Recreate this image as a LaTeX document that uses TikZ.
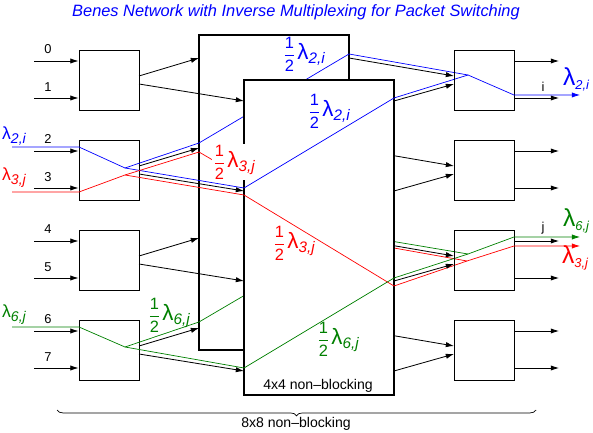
\documentclass[tikz,border=0pt]{standalone}
\usepackage{fontspec}
\setmainfont{Liberation Sans}
\usepackage{amsmath}
\usetikzlibrary{arrows.meta,decorations.pathreplacing}

\definecolor{netblue}{RGB}{0,0,255}
\definecolor{netred}{RGB}{255,0,0}
\definecolor{netgreen}{RGB}{0,128,0}

\newcommand{\lam}[2][11]{λ\raisebox{-3.5pt}{\fontsize{#1}{13}\selectfont\itshape #2}}
\newcommand{\halflam}[1]{{\fontsize{14}{16}\selectfont$\genfrac{}{}{0.6pt}{0}{\hbox{1}}{\hbox{2}}$}\,{\fontsize{19}{22}\selectfont\lam[13]{#1}}}

\begin{document}
\begin{tikzpicture}[x=0.03cm,y=-0.03cm,
  sw/.style={draw,line width=0.8pt,minimum width=1.8cm,minimum height=1.8cm,inner sep=0pt},
  big/.style={draw,fill=white,line width=2pt,minimum width=4.5cm,minimum height=9.45cm,inner sep=0pt},
  arr/.style={-{Latex[length=7pt,width=4.5pt]},line width=0.7pt},
  ch/.style={line width=0.6pt},
  lbl/.style={font=\fontsize{11}{13}\selectfont,inner sep=1pt}]
\useasboundingbox (0,0) rectangle (593,433);

%title
\node[font=\fontsize{14}{17}\selectfont\itshape,text=netblue] (head) at (296,12) {Benes Network with Inverse Multiplexing for Packet Switching};

%ports of the switches
\coordinate (in0) at (34,61); \coordinate (in1) at (34,98);
\coordinate (in2) at (34,151); \coordinate (in3) at (34,188);
\coordinate (in4) at (34,241); \coordinate (in5) at (34,278);
\coordinate (in6) at (34,331); \coordinate (in7) at (34,368);
\coordinate (l0a) at (139,76); \coordinate (l0b) at (139,84);
\coordinate (l1a) at (139,166); \coordinate (l1b) at (139,174);
\coordinate (l2a) at (139,256); \coordinate (l2b) at (139,264);
\coordinate (l3a) at (139,346); \coordinate (l3b) at (139,354);
\coordinate (bi0) at (199,58); \coordinate (bo0) at (349,58);
\coordinate (bi1) at (199,148); \coordinate (bo1) at (349,148);
\coordinate (bi2) at (199,238); \coordinate (bo2) at (349,238);
\coordinate (bi3) at (199,328); \coordinate (bo3) at (349,328);
\coordinate (fi0) at (244,101); \coordinate (fo0) at (394,101);
\coordinate (fi1) at (244,191); \coordinate (fo1) at (394,191);
\coordinate (fi2) at (244,281); \coordinate (fo2) at (394,281);
\coordinate (fi3) at (244,371); \coordinate (fo3) at (394,371);
\coordinate (r0a) at (454,76); \coordinate (r0b) at (454,84);
\coordinate (r1a) at (454,166); \coordinate (r1b) at (454,174);
\coordinate (r2a) at (454,256); \coordinate (r2b) at (454,264);
\coordinate (r3a) at (454,346); \coordinate (r3b) at (454,354);
\coordinate (ou0) at (559,61); \coordinate (ou1) at (559,98);
\coordinate (ou2) at (559,151); \coordinate (ou3) at (559,188);
\coordinate (ou4) at (559,241); \coordinate (ou5) at (559,278);
\coordinate (ou6) at (559,331); \coordinate (ou7) at (559,368);

%points of the three split flows
\coordinate (b0) at (12,147); \coordinate (b1) at (79,147); \coordinate (bm) at (125,168);
\coordinate (b2) at (199,143); \coordinate (b3) at (349,54);
\coordinate (b4) at (244,188); \coordinate (b5) at (394,98);
\coordinate (bn) at (468,75); \coordinate (b6) at (514,95); \coordinate (b7) at (580,95);
\coordinate (c0) at (12,192); \coordinate (c1) at (79,192); \coordinate (cm) at (125,175);
\coordinate (c2) at (199,152); \coordinate (c3) at (349,240);
\coordinate (c4) at (244,195); \coordinate (c5) at (394,286);
\coordinate (cn) at (467,261); \coordinate (c6) at (514,246); \coordinate (c7) at (580,246);
\coordinate (g0) at (12,327); \coordinate (g1) at (79,327); \coordinate (gm) at (125,347);
\coordinate (g2) at (199,322); \coordinate (g3) at (349,234);
\coordinate (g4) at (244,368); \coordinate (g5) at (394,278);
\coordinate (gn) at (468,254); \coordinate (g6) at (514,237); \coordinate (g7) at (580,237);

%draw the back 4x4 switch
\node[big] (back) at (274,192.5) {};
\draw[ch,netblue] (b2) -- (b3) -- (bn);
\draw[ch,netred] (c2) -- (c3) -- (cn);
\draw[ch,netgreen] (g2) -- (g3) -- (gn);
\draw[arr] (bo0) -- (r0a);
\draw[arr] (bo1) -- (r1a);
\draw[arr] (bo2) -- (r2a);
\draw[arr] (bo3) -- (r3a);

%draw the front 4x4 switch
\node[big] (front) at (319,237.5) {};
\node[lbl,fill=white,text=netred] (h3b) at (234,162) {\halflam{3,j}};
\draw[ch,netblue] (b4) -- (b5) -- (bn);
\draw[ch,netred] (c4) -- (c5) -- (cn);
\draw[ch,netgreen] (g4) -- (g5) -- (gn);
\draw[arr] (fo0) -- (r0b);
\draw[arr] (fo1) -- (r1b);
\draw[arr] (fo2) -- (r2b);
\draw[arr] (fo3) -- (r3b);
\node[font=\fontsize{12}{14}\selectfont] (nb4) at (318,386) {4x4 non--blocking};

%draw the left 2x2 switches
\node[sw] (l0) at (109,80) {};
\node[sw] (l1) at (109,170) {};
\node[sw] (l2) at (109,260) {};
\node[sw] (l3) at (109,350) {};
\draw[arr] (in0) -- (in0 -| l0.west);
\draw[arr] (in1) -- (in1 -| l0.west);
\draw[arr] (in2) -- (in2 -| l1.west);
\draw[arr] (in3) -- (in3 -| l1.west);
\draw[arr] (in4) -- (in4 -| l2.west);
\draw[arr] (in5) -- (in5 -| l2.west);
\draw[arr] (in6) -- (in6 -| l3.west);
\draw[arr] (in7) -- (in7 -| l3.west);
\draw[arr] (l0a) -- (bi0);
\draw[arr] (l0b) -- (fi0);
\draw[arr] (l1a) -- (bi1);
\draw[arr] (l1b) -- (fi1);
\draw[arr] (l2a) -- (bi2);
\draw[arr] (l2b) -- (fi2);
\draw[arr] (l3a) -- (bi3);
\draw[arr] (l3b) -- (fi3);
\node[lbl] (n0) at (48,49) {0};
\node[lbl] (n1) at (48,87) {1};
\node[lbl] (n2) at (48,139) {2};
\node[lbl] (n3) at (48,177) {3};
\node[lbl] (n4) at (48,229) {4};
\node[lbl] (n5) at (48,267) {5};
\node[lbl] (n6) at (48,319) {6};
\node[lbl] (n7) at (48,357) {7};

%flows coming in
\draw[ch,netblue] (b0) -- (b1) -- (bm) -- (b2);
\draw[ch,netblue] (bm) -- (b4);
\draw[ch,netred] (c0) -- (c1) -- (cm) -- (c2);
\draw[ch,netred] (cm) -- (c4);
\draw[ch,netgreen] (g0) -- (g1) -- (gm) -- (g2);
\draw[ch,netgreen] (gm) -- (g4);

%draw the right 2x2 switches
\node[sw] (r0) at (484,80) {};
\node[sw] (r1) at (484,170) {};
\node[sw] (r2) at (484,260) {};
\node[sw] (r3) at (484,350) {};
\draw[arr] (ou0 -| r0.east) -- (ou0);
\draw[arr] (ou1 -| r0.east) -- (ou1);
\draw[arr] (ou2 -| r1.east) -- (ou2);
\draw[arr] (ou3 -| r1.east) -- (ou3);
\draw[arr] (ou4 -| r2.east) -- (ou4);
\draw[arr] (ou5 -| r2.east) -- (ou5);
\draw[arr] (ou6 -| r3.east) -- (ou6);
\draw[arr] (ou7 -| r3.east) -- (ou7);

%flows going out
\draw[ch,netblue,-{Latex[length=7pt,width=4.5pt]}] (bn) -- (b6) -- (b7);
\draw[ch,netred,-{Latex[length=7pt,width=4.5pt]}] (cn) -- (c6) -- (c7);
\draw[ch,netgreen,-{Latex[length=7pt,width=4.5pt]}] (gn) -- (g6) -- (g7);
\node[lbl] (oi) at (543,87) {i};
\node[lbl] (oj) at (543,228) {j};

%flow labels
\node[text=netblue,font=\fontsize{15}{17}\selectfont,inner sep=0pt] (la2) at (14,136) {\lam[12]{2,i}};
\node[text=netred,font=\fontsize{15}{17}\selectfont,inner sep=0pt] (la3) at (14,178) {\lam[12]{3,j}};
\node[text=netgreen,font=\fontsize{15}{17}\selectfont,inner sep=0pt] (la6) at (14,315) {\lam[12]{6,j}};
\node[lbl,text=netblue] (h2b) at (304,54) {\halflam{2,i}};
\node[lbl,text=netblue] (h2f) at (329,111) {\halflam{2,i}};
\node[lbl,text=netred] (h3f) at (294,243) {\halflam{3,j}};
\node[lbl,text=netgreen] (h6b) at (169,315) {\halflam{6,j}};
\node[lbl,text=netgreen] (h6f) at (338,339) {\halflam{6,j}};
\node[text=netblue,font=\fontsize{21}{24}\selectfont,inner sep=0pt] (ra2) at (576,79) {\lam{2,i}};
\node[text=netgreen,font=\fontsize{21}{24}\selectfont,inner sep=0pt] (ra6) at (576,221) {\lam{6,j}};
\node[text=netred,font=\fontsize{21}{24}\selectfont,inner sep=0pt] (ra3) at (575,258) {\lam{3,j}};

%the whole network
\coordinate (brL) at (57,410);
\coordinate (brR) at (536,410);
\draw[decorate,decoration={brace,amplitude=5pt},line width=0.6pt] (brR) -- (brL);
\node[font=\fontsize{12}{14}\selectfont] (nb8) at (296,424) {8x8 non--blocking};

\end{tikzpicture}
\end{document}
